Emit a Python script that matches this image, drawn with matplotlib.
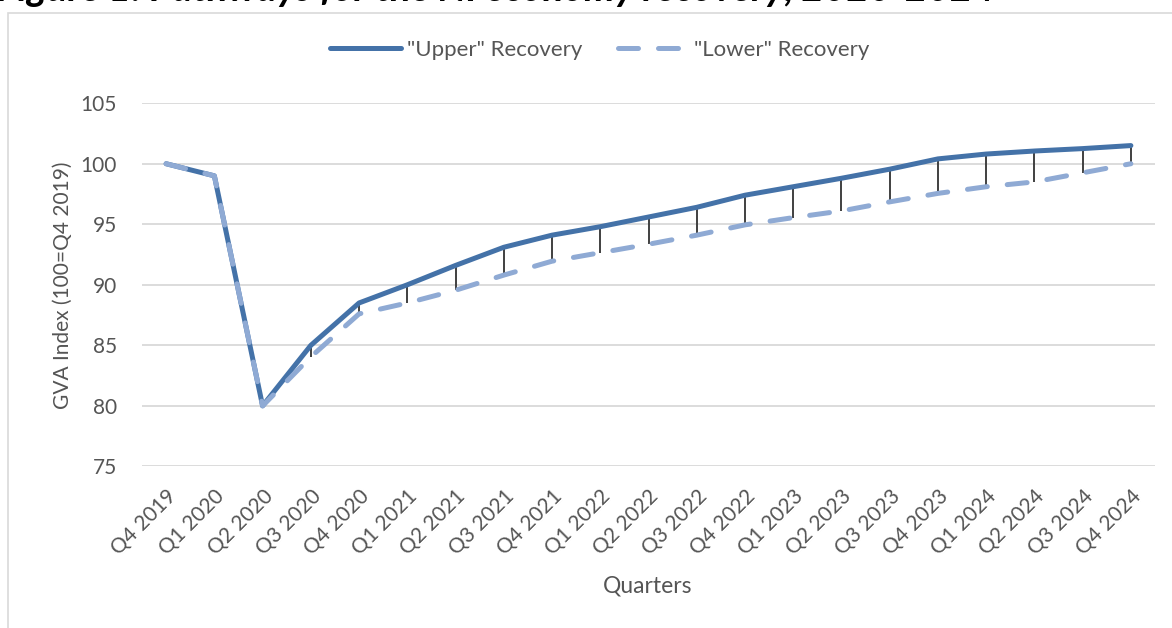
import matplotlib
matplotlib.use("Agg")
import matplotlib.pyplot as plt
from matplotlib.lines import Line2D
from matplotlib.patches import Rectangle

# Quarterly GVA index paths (100 = Q4 2019)
quarters = ["Q4 2019", "Q1 2020", "Q2 2020", "Q3 2020", "Q4 2020",
            "Q1 2021", "Q2 2021", "Q3 2021", "Q4 2021",
            "Q1 2022", "Q2 2022", "Q3 2022", "Q4 2022",
            "Q1 2023", "Q2 2023", "Q3 2023", "Q4 2023",
            "Q1 2024", "Q2 2024", "Q3 2024", "Q4 2024"]
upper = [100.0, 99.0, 80.0, 85.0, 88.5,
         90.0, 91.6, 93.1, 94.1,
         94.8, 95.6, 96.4, 97.4,
         98.1, 98.8, 99.55, 100.4,
         100.8, 101.05, 101.25, 101.5]
lower = [100.0, 99.0, 80.0, 84.05, 87.6,
         88.5, 89.55, 90.8, 91.95,
         92.65, 93.35, 94.1, 94.95,
         95.55, 96.1, 96.85, 97.55,
         98.1, 98.5, 99.25, 100.0]
yticks = [75, 80, 85, 90, 95, 100, 105]

UPPER_C = "#4472A8"
LOWER_C = "#8FAAD4"
TEXT_C = "#555555"
GRID_C = "#D9D9D9"
FONT = "Lato"
FS = 15

plt.rcParams["font.family"] = [FONT, "DejaVu Sans"]

W, H = 1172, 628
fig = plt.figure(figsize=(W / 100, H / 100), dpi=100)

# chart frame (runs off the right and bottom edges)
fig.patches.append(Rectangle((8 / W, -0.1), 1.2, (H - 12.5) / H + 0.1,
                             transform=fig.transFigure, fill=False,
                             edgecolor=GRID_C, linewidth=1.2))

ax = fig.add_axes([142 / W, 1 - 466.4 / H, (1155 - 142) / W, (466.4 - 103.2) / H])
x = list(range(len(quarters)))

ax.vlines(x, lower, upper, color="#404040", linewidth=1.4, zorder=2)
ax.plot(x, upper, color=UPPER_C, linewidth=3.6, solid_capstyle="round",
        solid_joinstyle="round", zorder=3, label='"Upper" Recovery')
ax.plot(x, lower, color=LOWER_C, linewidth=3.6, linestyle=(0, (4, 4)),
        dash_capstyle="round", zorder=4, label='"Lower" Recovery')

ax.set_xlim(-0.5, len(quarters) - 0.5)
ax.set_ylim(75, 105)
ax.set_yticks(yticks)
ax.set_yticklabels([str(v) for v in yticks])
ax.set_xticks(x)
ax.set_xticklabels(quarters, rotation=45, ha="right", va="top",
                   rotation_mode="anchor")
ax.tick_params(axis="both", length=0, labelsize=FS, labelcolor=TEXT_C)
ax.tick_params(axis="x", pad=14)
ax.tick_params(axis="y", pad=18)
ax.grid(axis="y", color=GRID_C, linewidth=1.3)
ax.set_axisbelow(True)
for s in ax.spines.values():
    s.set_visible(False)

fig.text(63 / W, 1 - 285 / H, "GVA Index (100=Q4 2019)", rotation=90,
         ha="center", va="center", fontsize=FS, color=TEXT_C)
fig.text(648 / W, 1 - 586 / H, "Quarters", ha="center", va="center",
         fontsize=FS + 1.5, color=TEXT_C)

handles = [Line2D([], [], color=UPPER_C, linewidth=3.6, solid_capstyle="round"),
           Line2D([], [], color=LOWER_C, linewidth=3.6, linestyle=(0, (4, 4)),
                  dash_capstyle="round")]
fig.legend(handles, ['"Upper" Recovery', '"Lower" Recovery'],
           loc="center", bbox_to_anchor=(600 / W, 1 - 50 / H), ncol=2,
           frameon=False, fontsize=FS + 1, labelcolor=TEXT_C, handlelength=3.2,
           handletextpad=0.25, columnspacing=1.6)

title = fig.text(-3 / W, 1 - 1 / H,
                 "Figure 1: Pathways for the NI economy recovery, 2020-2024",
                 ha="left", va="baseline", fontsize=24, fontweight="bold",
                 fontstyle="italic", color="black")
fig.canvas.draw()
tw = title.get_window_extent().width
title.set_fontsize(24 * 1000 / tw)

fig.savefig("out.png", dpi=100)
